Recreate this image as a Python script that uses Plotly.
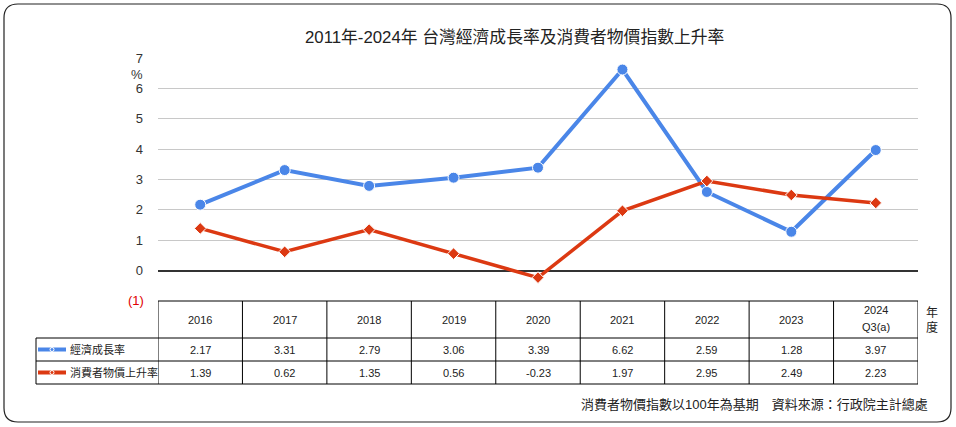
import plotly.graph_objects as go

years = ["2016", "2017", "2018", "2019", "2020", "2021", "2022", "2023", "2024<br>Q3(a)"]
gdp_growth = [2.17, 3.31, 2.79, 3.06, 3.39, 6.62, 2.59, 1.28, 3.97]
cpi_growth = [1.39, 0.62, 1.35, 0.56, -0.23, 1.97, 2.95, 2.49, 2.23]
series_names = ["經濟成長率", "消費者物價上升率"]
ytick_vals = [0, 1, 2, 3, 4, 5, 6, 7]
title_text = "2011年-2024年 台灣經濟成長率及消費者物價指數上升率"
footnote = "消費者物價指數以100年為基期　資料來源：行政院主計總處"

W, H = 956, 427
ML, MR, MT, MB = 158, 38, 58, 126
PW, PH = W - ML - MR, H - MT - MB
BLUE = "#4a86e8"
RED = "#dc3912"
FONT = "Liberation Sans, Noto Sans CJK TC, sans-serif"

def py(p):  # pixel y -> paper y
    return (H - MB - p) / PH

def px(p):  # pixel x -> paper x
    return (p - ML) / PW

xs = list(range(len(years)))

fig = go.Figure()
fig.add_trace(go.Scatter(x=xs, y=gdp_growth, mode="lines+markers", name=series_names[0],
                         line=dict(color=BLUE, width=4),
                         marker=dict(symbol="circle", size=11, color=BLUE,
                                     line=dict(color="white", width=1))))
fig.add_trace(go.Scatter(x=xs, y=cpi_growth, mode="lines+markers", name=series_names[1],
                         line=dict(color=RED, width=3.5),
                         marker=dict(symbol="diamond", size=9, color=RED,
                                     line=dict(color="white", width=1))))

shapes = []
ann = []
LC = "#000000"
top, r1, r2, bot = 301, 338, 361, 384
left_px = 36

def txt(x, y, text, xref="x", xanchor="center", size=11, color="#222"):
    ann.append(dict(x=x, y=y, xref=xref, yref="paper", text=text, showarrow=False,
                    xanchor=xanchor, yanchor="middle", align="center",
                    font=dict(size=size, color=color)))

# horizontal lines
shapes.append(dict(type="line", xref="x", yref="paper", x0=-0.5, x1=len(years) - 0.5,
                   y0=py(top), y1=py(top), line=dict(color=LC, width=1)))
for yy in (r1, r2, bot):
    shapes.append(dict(type="line", xref="paper", yref="paper", x0=px(left_px), x1=1,
                       y0=py(yy), y1=py(yy), line=dict(color=LC, width=1)))
# vertical lines
for i in range(len(years) + 1):
    shapes.append(dict(type="line", xref="x", yref="paper", x0=i - 0.5, x1=i - 0.5,
                       y0=py(top), y1=py(bot), line=dict(color=LC, width=1)))
shapes.append(dict(type="line", xref="paper", yref="paper", x0=px(left_px), x1=px(left_px),
                   y0=py(r1), y1=py(bot), line=dict(color=LC, width=1)))

# table cell text
for i, y in enumerate(years):
    parts = y.split("<br>")
    if len(parts) == 1:
        txt(i, py((top + r1) / 2), y)
    else:
        txt(i, py(310), parts[0])
        txt(i, py(327), parts[1])
    txt(i, py((r1 + r2) / 2), f"{gdp_growth[i]:.2f}")
    txt(i, py((r2 + bot) / 2), f"{cpi_growth[i]:.2f}")

# legend samples in table
for (ya, yb), col, nm in [((r1, r2), BLUE, series_names[0]), ((r2, bot), RED, series_names[1])]:
    yc = py((ya + yb) / 2)
    shapes.append(dict(type="line", xref="paper", yref="paper", x0=px(38), x1=px(66), y0=yc, y1=yc,
                       line=dict(color=col, width=4)))
    shapes.append(dict(type="circle", xref="paper", yref="paper", x0=px(50), x1=px(54),
                       y0=yc - 2 / PH, y1=yc + 2 / PH, line=dict(color="white", width=1),
                       fillcolor=col))
    txt(px(68), yc, nm, xref="paper", xanchor="left")

# y-axis extras
txt(px(146), py(300), "(1)", xref="paper", xanchor="right", size=13, color="#e00000")
txt(px(145), py(74), "%", xref="paper", xanchor="right", size=13, color="#333")
txt(px(932), py(313), "年", xref="paper", size=12)
txt(px(932), py(327), "度", xref="paper", size=12)
txt(px(514), py(38), title_text, xref="paper", size=16.8)
txt(px(930), py(404), footnote, xref="paper", xanchor="right", size=13)

# rounded border
x0, y0, x1, y1, r = px(4), py(4), px(951), py(422), 14
rx, ry = r / PW, r / PH
path = (f"M {x0+rx} {y0} L {x1-rx} {y0} Q {x1} {y0} {x1} {y0-ry} "
        f"L {x1} {y1+ry} Q {x1} {y1} {x1-rx} {y1} L {x0+rx} {y1} Q {x0} {y1} {x0} {y1+ry} "
        f"L {x0} {y0-ry} Q {x0} {y0} {x0+rx} {y0} Z")
shapes.append(dict(type="path", xref="paper", yref="paper", path=path,
                   line=dict(color="#222", width=1.2)))

fig.update_layout(
    width=W, height=H, margin=dict(l=ML, r=MR, t=MT, b=MB),
    paper_bgcolor="white", plot_bgcolor="white",
    font=dict(family=FONT, color="#333"),
    showlegend=False, shapes=shapes, annotations=ann,
    xaxis=dict(range=[-0.5, len(years) - 0.5], showticklabels=False, showgrid=False,
               zeroline=False, fixedrange=True),
    yaxis=dict(range=[-1, 7], tickvals=ytick_vals, showgrid=True, gridcolor="#c8c8c8",
               zeroline=True, zerolinecolor="#333", zerolinewidth=1.5,
               tickfont=dict(size=13, color="#333"), ticks="", ticklabelstandoff=14),
)

fig.write_html("out.html", config={"displayModeBar": False},
               post_script="document.body.style.margin='0';")
